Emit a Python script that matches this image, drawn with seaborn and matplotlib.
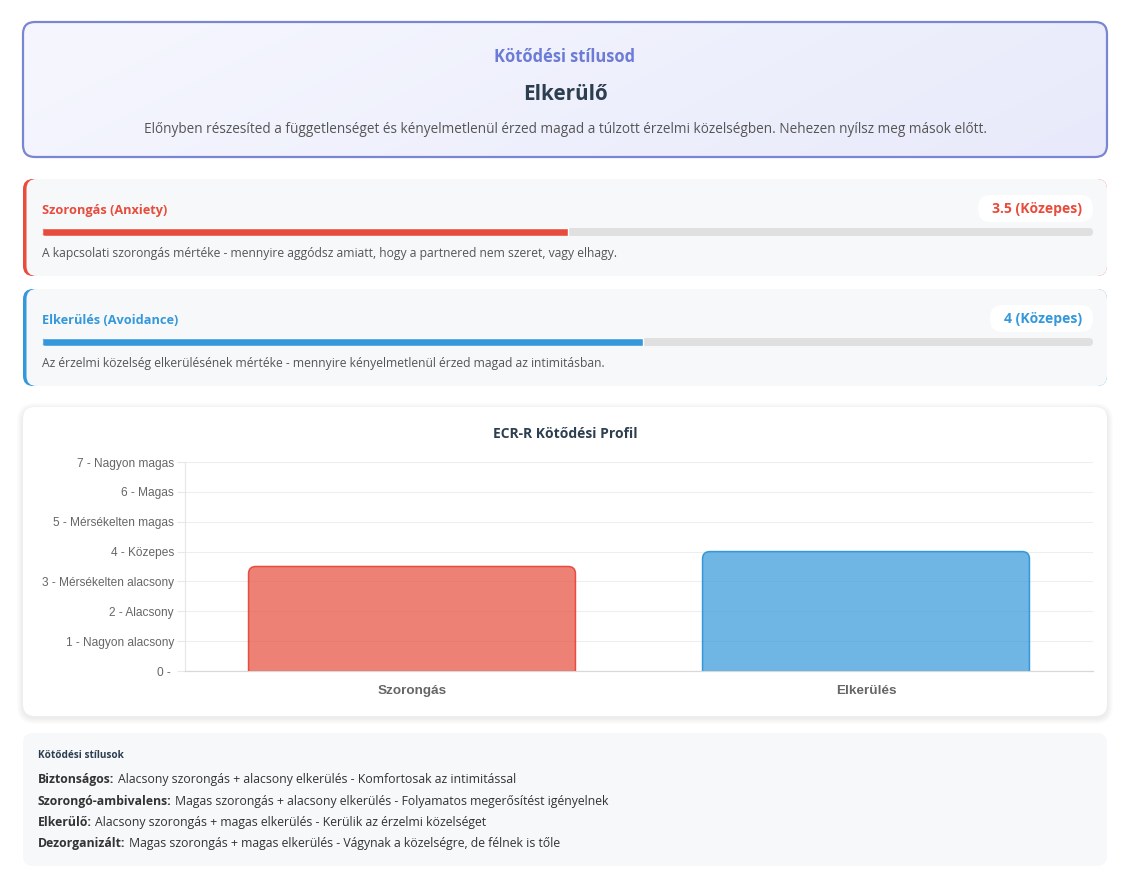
import numpy as np
import matplotlib
matplotlib.use('Agg')
import matplotlib.pyplot as plt
from matplotlib.patches import FancyBboxPatch
from matplotlib.colors import to_rgba, to_rgb
import seaborn as sns

# data
categories = ['Szorongás', 'Elkerülés']
scores = [3.5, 4]
max_score = 7
level_labels = ['', 'Nagyon alacsony', 'Alacsony', 'Mérsékelten alacsony', 'Közepes',
                'Mérsékelten magas', 'Magas', 'Nagyon magas']
dimension_titles = ['Szorongás (Anxiety)', 'Elkerülés (Avoidance)']
score_badges = ['3.5 (Közepes)', '4 (Közepes)']
dimension_notes = [
    'A kapcsolati szorongás mértéke - mennyire aggódsz amiatt, hogy a partnered nem szeret, vagy elhagy.',
    'Az érzelmi közelség elkerülésének mértéke - mennyire kényelmetlenül érzed magad az intimitásban.',
]
result_kicker = 'Kötődési stílusod'
result_style = 'Elkerülő'
result_note = ('Előnyben részesíted a függetlenséget és kényelmetlenül érzed magad a túlzott érzelmi '
               'közelségben. Nehezen nyílsz meg mások előtt.')
chart_title = 'ECR-R Kötődési Profil'
styles_title = 'Kötődési stílusok'
style_names = ['Biztonságos:', 'Szorongó-ambivalens:', 'Elkerülő:', 'Dezorganizált:']
style_notes = [
    'Alacsony szorongás + alacsony elkerülés - Komfortosak az intimitással',
    'Magas szorongás + alacsony elkerülés - Folyamatos megerősítést igényelnek',
    'Alacsony szorongás + magas elkerülés - Kerülik az érzelmi közelséget',
    'Magas szorongás + magas elkerülés - Vágynak a közelségre, de félnek is tőle',
]

colors = ['#e74c3c', '#3498db']
W, H = 1123, 889

sns.set_style('white')
plt.rcParams['font.family'] = ['Open Sans', 'DejaVu Sans']

fig = plt.figure(figsize=(W / 100, H / 100), dpi=100)
bg = fig.add_axes([0, 0, 1, 1])
bg.set_axis_off()


def card(x, y, w, h, fc, ec='none', lw=0, r=10, z=1):
    p = FancyBboxPatch((x, y), w, h, boxstyle=f'round,pad=0,rounding_size={r}',
                       fc=fc, ec=ec, lw=lw, zorder=z)
    bg.add_patch(p)
    return p


def fax(x0, y0, x1, y1):
    # pixel box (top-left origin) -> figure axes
    return fig.add_axes([x0 / W, 1 - y1 / H, (x1 - x0) / W, (y1 - y0) / H])


# header card with soft gradient
head = card(23, 22, 1084, 135, 'none', r=12, z=2)
c0, c1 = np.array(to_rgb('#f6f7fe')), np.array(to_rgb('#e8eafb'))
gx, gy = np.meshgrid(np.linspace(0, 1, 300), np.linspace(0, 1, 60))
t = (0.8 * gx + 0.2 * gy)[..., None]
im = bg.imshow(c0 + (c1 - c0) * t, extent=[23, 1107, 157, 22], aspect='auto', zorder=1)
im.set_clip_path(head)
card(23, 22, 1084, 135, 'none', ec='#7a86d2', lw=1.6, r=12, z=3)
bg.text(565, 57.5, result_kicker, ha='center', va='center', fontsize=11.9, fontweight='bold', color='#6b7bd6')
bg.text(565, 94, result_style, ha='center', va='center', fontsize=14.9, fontweight='bold', color='#2c3e50')
bg.text(565, 129.5, result_note, ha='center', va='center', fontsize=9.85, color='#555555')

# dimension cards
tops = [179, 289]
badge_left = [978, 990]
for i in range(2):
    y = tops[i]
    card(23, y, 1084, 97, colors[i], r=10)
    card(26.5, y, 1080.5, 97, '#f7f8fa', r=10)
    bg.text(42, y + 31.5, dimension_titles[i], ha='left', va='center', fontsize=9.2,
            fontweight='bold', color=colors[i])
    card(badge_left[i], y + 16, 1093 - badge_left[i], 27, 'white', r=13, z=2)
    bg.text(1082, y + 30.5, score_badges[i], ha='right', va='center', fontsize=10.1,
            fontweight='bold', color=colors[i], zorder=3)
    track = card(42, y + 49, 1051, 8, '#e0e0e0', r=4, z=2)
    pax = fax(42, y + 49, 1093, y + 57)
    pax.set_xlim(0, max_score)
    pax.set_ylim(-0.5, 0.5)
    pax.set_axis_off()
    pax.patch.set_alpha(0)
    bars = pax.barh(0, scores[i], height=1, color=colors[i])
    for b in bars:
        b.set_clip_path(track)
    bg.text(42, y + 75, dimension_notes[i], ha='left', va='center', fontsize=8.7, color='#555555')

# chart card with shadow
for k in range(1, 7):
    card(23 - k, 407 - k + 2, 1084 + 2 * k, 309 + 2 * k, to_rgba('black', 0.01), r=12 + k, z=1)
card(23, 407, 1084, 309, 'white', r=12, z=2)
bg.text(565, 434, chart_title, ha='center', va='center', fontsize=10, fontweight='bold',
        color='#2c3e50', zorder=3)

px0, py0, px1, py1 = 185, 462, 1093, 671
ax = fax(px0, py0, px1, py1)
ax.patch.set_alpha(0)
sns.barplot(x=categories, y=scores, hue=categories, palette=colors, width=0.72,
            legend=False, ax=ax)
ax.set_xlim(-0.5, len(categories) - 0.5)
ax.set_ylim(0, max_score)
asp = ((px1 - px0) / len(categories)) / ((py1 - py0) / max_score)
for patch, c in zip(list(ax.patches), colors):
    x, w, h = patch.get_x(), patch.get_width(), patch.get_height()
    patch.set_visible(False)
    rb = FancyBboxPatch((x, -0.5), w, h + 0.5, boxstyle='round,pad=0,rounding_size=0.016',
                        mutation_aspect=asp, fc=to_rgba(c, 0.7), ec=c, lw=1.1, zorder=3)
    ax.add_patch(rb)

ax.set_yticks(range(max_score + 1))
ax.set_yticklabels([f'{v} - {lab}' for v, lab in enumerate(level_labels)],
                   family='Liberation Sans', fontsize=8.6, color='#666666')
ax.tick_params(axis='y', length=6, width=0.8, color='#e8e8e8', pad=2, left=True)
ax.tick_params(axis='x', length=0, pad=10)
for lab in ax.get_xticklabels():
    lab.set_family('Liberation Sans')
    lab.set_fontweight('bold')
    lab.set_fontsize(9.7)
    lab.set_color('#666666')
ax.yaxis.grid(True, color='#eeeeee', lw=0.8)
ax.set_axisbelow(True)
for s in ['top', 'right']:
    ax.spines[s].set_visible(False)
ax.spines['left'].set_color('#e6e6e6')
ax.spines['left'].set_linewidth(0.8)
ax.spines['bottom'].set_color('#d8d8d8')
ax.spines['bottom'].set_linewidth(0.9)
ax.set_xlabel('')
ax.set_ylabel('')

# styles legend card
card(23, 733, 1084, 133, '#f7f8fa', r=10)
bg.text(38, 755.5, styles_title, ha='left', va='center', fontsize=7.2, fontweight='bold', color='#2c3e50')
for i, (name, note) in enumerate(zip(style_names, style_notes)):
    t0 = bg.text(38, 780 + i * 21.3, name, ha='left', va='center', fontsize=8.8,
                 fontweight='bold', color='#333333')
    bg.annotate(note, xy=(1, 0), xycoords=t0, xytext=(2.5, 0), textcoords='offset points',
                ha='left', va='bottom', fontsize=8.8, color='#333333')

bg.set_xlim(0, W)
bg.set_ylim(H, 0)
fig.savefig('out.png', dpi=100)
